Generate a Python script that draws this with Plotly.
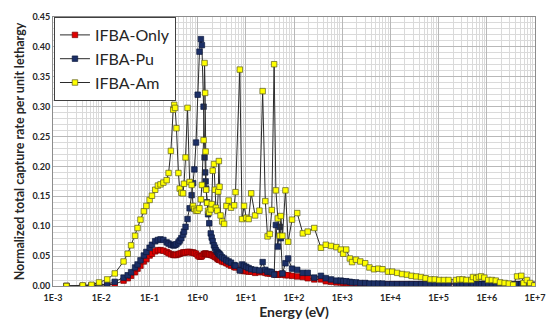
import plotly.graph_objects as go

# Group energies (eV), shared by all three cases
energy_ev = [
    1.90e-3, 4.13e-3, 6.29e-3, 9.02e-3, 1.33e-2, 1.91e-2, 2.91e-2, 3.55e-2, 4.17e-2, 5.03e-2,
    5.68e-2, 6.53e-2, 7.66e-2, 8.65e-2, 0.101, 0.113, 0.132, 0.150, 0.170, 0.195,
    0.228, 0.250, 0.279, 0.312, 0.327, 0.342, 0.364, 0.400, 0.425, 0.460,
    0.498, 0.522, 0.562, 0.618, 0.684, 0.752, 0.806, 0.857, 0.928, 1.005,
    1.093, 1.172, 1.228, 1.330, 1.394, 1.434, 1.468, 1.502, 1.575, 1.650,
    1.745, 1.873, 1.962, 2.056, 2.185, 2.290, 2.399, 2.562, 2.685, 2.761,
    2.853, 2.989, 3.237, 3.554, 3.958, 4.410, 4.933, 5.757, 6.118, 7.516,
    8.372, 9.192, 10.24, 11.45, 12.94, 15.60, 19.17, 22.37, 25.38, 28.27,
    31.48, 34.56, 38.67, 42.07, 46.19, 50.73, 53.15, 57.57, 66.56, 75.51,
    91.06, 116.7, 152.4, 192.6, 263.5, 362.2, 457.8, 586.6, 758.8, 932.3,
    1053, 1211, 1440, 1605, 1935, 2377, 3003, 3673, 4578, 5598,
    6845, 8940, 10930, 13810, 17450, 22060, 27480, 34240, 43270, 53660,
    67820, 83320, 1.033e5, 1.288e5, 1.605e5, 2.290e5, 2.685e5, 3.133e5, 3.778e5, 4.774e5,
    5.169e5, 6.033e5, 6.845e5, 7.624e5, 8.897e5, 1.073e6, 1.276e6, 1.538e6, 1.881e6, 2.344e6,
    2.867e6, 3.522e6, 4.246e6, 5.193e6, 5.783e6, 6.780e6, 7.914e6, 9.68e6,
]

ifba_am = [
    0.000, 0.001, 0.002, 0.006, 0.011, 0.021, 0.041, 0.054, 0.068, 0.084,
    0.097, 0.111, 0.125, 0.134, 0.144, 0.151, 0.161, 0.168, 0.170, 0.173,
    0.177, 0.189, 0.226, 0.295, 0.303, 0.298, 0.264, 0.189, 0.163, 0.156,
    0.155, 0.171, 0.215, 0.298, 0.174, 0.169, 0.134, 0.129, 0.126, 0.126,
    0.130, 0.145, 0.169, 0.244, 0.373, 0.323, 0.225, 0.161, 0.139, 0.126,
    0.123, 0.128, 0.137, 0.193, 0.204, 0.161, 0.131, 0.126, 0.158, 0.209,
    0.166, 0.118, 0.108, 0.104, 0.134, 0.143, 0.131, 0.135, 0.157, 0.362,
    0.112, 0.134, 0.114, 0.112, 0.155, 0.118, 0.126, 0.326, 0.142, 0.083,
    0.087, 0.127, 0.371, 0.160, 0.113, 0.084, 0.117, 0.084, 0.160, 0.074,
    0.111, 0.122, 0.088, 0.091, 0.097, 0.064, 0.069, 0.067, 0.065, 0.061,
    0.054, 0.061, 0.046, 0.040, 0.044, 0.041, 0.038, 0.031, 0.028, 0.029,
    0.028, 0.024, 0.024, 0.022, 0.020, 0.019, 0.017, 0.016, 0.015, 0.013,
    0.011, 0.011, 0.010, 0.010, 0.010, 0.010, 0.011, 0.011, 0.010, 0.010,
    0.015, 0.013, 0.015, 0.016, 0.014, 0.010, 0.010, 0.009, 0.006, 0.005,
    0.004, 0.002, 0.016, 0.017, 0.005, 0.010, 0.005, 0.001,
]

ifba_pu = [
    0.000, 0.000, 0.001, 0.002, 0.003, 0.007, 0.014, 0.018, 0.023, 0.031,
    0.036, 0.043, 0.051, 0.057, 0.064, 0.069, 0.075, 0.077, 0.078, 0.077,
    0.073, 0.071, 0.069, 0.068, 0.068, 0.069, 0.070, 0.073, 0.076, 0.080,
    0.086, 0.091, 0.099, 0.112, 0.130, 0.152, 0.172, 0.195, 0.240, 0.320,
    0.392, 0.413, 0.403, 0.300, 0.215, 0.190, 0.175, 0.163, 0.140, 0.120,
    0.105, 0.088, 0.081, 0.075, 0.068, 0.064, 0.060, 0.057, 0.055, 0.054,
    0.053, 0.051, 0.048, 0.046, 0.043, 0.041, 0.039, 0.035, 0.034, 0.026,
    0.036, 0.034, 0.032, 0.030, 0.028, 0.027, 0.026, 0.040, 0.027, 0.024,
    0.024, 0.023, 0.019, 0.102, 0.066, 0.099, 0.080, 0.021, 0.038, 0.046,
    0.029, 0.027, 0.022, 0.022, 0.014, 0.017, 0.013, 0.011, 0.009, 0.009,
    0.008, 0.008, 0.007, 0.006, 0.006, 0.005, 0.005, 0.004, 0.004, 0.004,
    0.004, 0.003, 0.003, 0.003, 0.003, 0.003, 0.003, 0.003, 0.003, 0.003,
    0.003, 0.003, 0.003, 0.003, 0.003, 0.003, 0.003, 0.003, 0.003, 0.003,
    0.003, 0.003, 0.003, 0.003, 0.003, 0.003, 0.003, 0.003, 0.003, 0.003,
    0.003, 0.003, 0.003, 0.003, 0.003, 0.003, 0.002, 0.002,
]

ifba_only = [
    0.000, 0.000, 0.000, 0.001, 0.002, 0.003, 0.009, 0.013, 0.017, 0.023,
    0.029, 0.034, 0.041, 0.045, 0.051, 0.054, 0.058, 0.060, 0.060, 0.059,
    0.057, 0.055, 0.053, 0.052, 0.052, 0.052, 0.052, 0.053, 0.054, 0.055,
    0.056, 0.056, 0.056, 0.057, 0.057, 0.056, 0.056, 0.055, 0.054, 0.051,
    0.049, 0.049, 0.050, 0.053, 0.054, 0.054, 0.054, 0.054, 0.053, 0.053,
    0.053, 0.052, 0.052, 0.051, 0.050, 0.049, 0.048, 0.046, 0.045, 0.044,
    0.044, 0.043, 0.041, 0.040, 0.038, 0.036, 0.034, 0.032, 0.031, 0.027,
    0.026, 0.025, 0.025, 0.024, 0.024, 0.022, 0.023, 0.024, 0.022, 0.021,
    0.021, 0.021, 0.020, 0.019, 0.019, 0.019, 0.020, 0.020, 0.018, 0.018,
    0.017, 0.016, 0.015, 0.013, 0.011, 0.011, 0.008, 0.007, 0.006, 0.006,
    0.005, 0.005, 0.005, 0.004, 0.004, 0.004, 0.004, 0.003, 0.003, 0.003,
    0.003, 0.003, 0.003, 0.003, 0.003, 0.003, 0.003, 0.003, 0.003, 0.003,
    0.003, 0.003, 0.003, 0.003, 0.003, 0.003, 0.003, 0.003, 0.003, 0.003,
    0.003, 0.003, 0.003, 0.003, 0.003, 0.003, 0.003, 0.003, 0.003, 0.003,
    0.003, 0.003, 0.003, 0.003, 0.003, 0.003, 0.002, 0.002,
]

x_tick_vals = [1e-3, 1e-2, 1e-1, 1e0, 1e1, 1e2, 1e3, 1e4, 1e5, 1e6, 1e7]
x_tick_text = ["1E-3", "1E-2", "1E-1", "1E+0", "1E+1", "1E+2", "1E+3", "1E+4", "1E+5", "1E+6", "1E+7"]

series = [
    ("IFBA-Only", ifba_only, "#e00000", "#7a0000"),
    ("IFBA-Pu", ifba_pu, "#1c2f66", "#0d1a3d"),
    ("IFBA-Am", ifba_am, "#ffff00", "#5a5a20"),
]

fig = go.Figure()
for name, vals, fill, edge in series:
    fig.add_trace(go.Scatter(
        x=energy_ev, y=vals, name=name, mode="lines+markers",
        line=dict(color="#2b2b2b", width=1),
        marker=dict(symbol="square", size=5.5, color=fill, line=dict(color=edge, width=0.7)),
    ))

font_family = "Lato, 'Open Sans', sans-serif"
tick_font = dict(size=9, color="#262626", family=font_family, weight="bold")
fig.update_layout(
    width=556, height=325,
    margin=dict(l=53, r=11, t=14, b=32),
    paper_bgcolor="white", plot_bgcolor="white",
    font=dict(family=font_family, color="#262626"),
    showlegend=True,
    legend=dict(
        x=0.002, y=1, xanchor="left", yanchor="top",
        bgcolor="white", bordercolor="#404040", borderwidth=1,
        font=dict(size=16, color="#262626", family=font_family),
        itemwidth=30, tracegroupgap=0,
    ),
    xaxis=dict(
        type="log", range=[-3, 7],
        tickmode="array", tickvals=x_tick_vals, ticktext=x_tick_text,
        tickfont=tick_font, ticklabelstandoff=3,
        showgrid=True, gridcolor="#b8b8b8", gridwidth=1,
        minor=dict(dtick="D1", showgrid=True, gridcolor="#dadada", gridwidth=1),
        showline=True, linecolor="#8c8c8c", linewidth=1, mirror=True,
        ticks="", zeroline=False,
        title=dict(text="Energy (eV)", font=dict(size=14, color="#262626", weight="bold"), standoff=1),
    ),
    yaxis=dict(
        range=[0, 0.45], dtick=0.05, tickformat=".2f",
        tickfont=tick_font,
        showgrid=True, gridcolor="#b8b8b8", gridwidth=1,
        minor=dict(dtick=0.01, showgrid=True, gridcolor="#dadada", gridwidth=1),
        showline=True, linecolor="#8c8c8c", linewidth=1, mirror=True,
        ticks="", zeroline=False,
        title=dict(text="Normalized total capture rate per unit lethargy",
                   font=dict(size=12.5, color="#262626", weight="bold"), standoff=5),
    ),
)

fig.write_html("out.html")
